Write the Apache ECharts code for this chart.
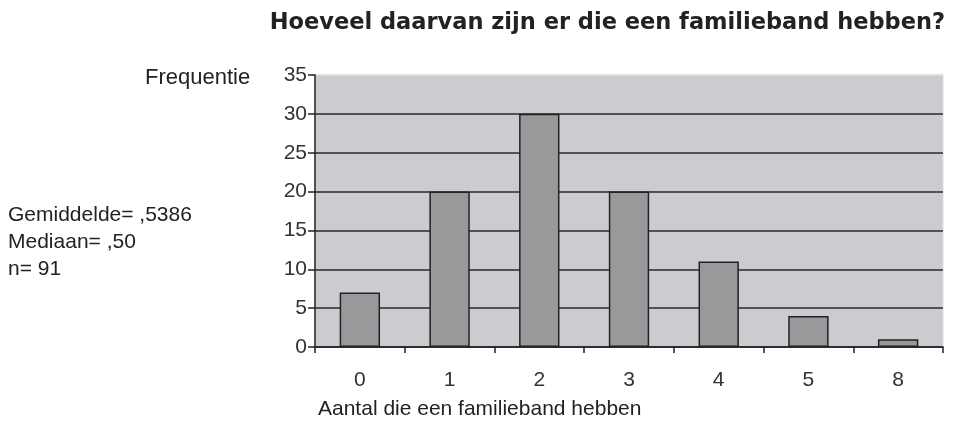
<!DOCTYPE html>
<html>
<head>
<meta charset="utf-8">
<script src="https://cdn.jsdelivr.net/npm/echarts@6/dist/echarts.min.js"></script>
<style>
  html, body { margin: 0; padding: 0; background: #fff; }
  #myChart { width: 958px; height: 426px; }
</style>
</head>
<body>
<div id="myChart"></div>
<script>
  var categories = ['0', '1', '2', '3', '4', '5', '8']
  var frequenties = [7, 20, 30, 20, 11, 4, 1]
  var statLines = ['Gemiddelde= ,5386', 'Mediaan= ,50', 'n= 91']

  var myChart = echarts.init(document.getElementById('myChart'))
  var font = 'Liberation Sans, Arial, sans-serif'

  var option = {
    animation: false,
    title: {
      text: 'Hoeveel daarvan zijn er die een familieband hebben?',
      right: 8,
      top: 7,
      textStyle: {
        fontFamily: 'DejaVu Sans, sans-serif',
        fontWeight: 'bold',
        fontSize: 22.5,
        color: '#222'
      }
    },
    graphic: [
      {
        type: 'text',
        left: 145,
        top: 67,
        style: { text: 'Frequentie', font: '22px ' + font, fill: '#222' }
      },
      {
        type: 'text',
        left: 8,
        top: 202,
        style: { text: statLines.join('\n'), font: '21px ' + font, fill: '#222', lineHeight: 27 }
      }
    ],
    grid: {
      left: 315,
      right: 15,
      top: 75,
      bottom: 79,
      show: true,
      backgroundColor: '#cbcccf',
      borderColor: '#dcdcdc',
      borderWidth: 1
    },
    xAxis: {
      type: 'category',
      data: categories,
      name: 'Aantal die een familieband hebben',
      nameLocation: 'start',
      nameGap: 0,
      nameTextStyle: {
        fontFamily: font,
        fontSize: 21,
        color: '#222',
        align: 'left',
        verticalAlign: 'top',
        padding: [52, 0, 0, 3]
      },
      axisLine: { lineStyle: { color: '#222', width: 1.5 } },
      axisTick: { show: true, length: 6, lineStyle: { color: '#222', width: 1.5 } },
      axisLabel: { fontFamily: font, fontSize: 21, color: '#333', margin: 23 }
    },
    yAxis: {
      type: 'value',
      min: 0,
      max: 35,
      interval: 5,
      axisLine: { show: true, lineStyle: { color: '#222', width: 1.5 } },
      axisTick: { show: true, length: 7, lineStyle: { color: '#222', width: 1.5 } },
      axisLabel: { fontFamily: font, fontSize: 21, color: '#333', margin: 8 },
      splitLine: {
        lineStyle: {
          color: ['#2a2a2a', '#2a2a2a', '#2a2a2a', '#2a2a2a', '#2a2a2a', '#2a2a2a', '#2a2a2a', '#dcdcdc'],
          width: 1.5
        }
      }
    },
    series: [
      {
        type: 'bar',
        data: frequenties,
        barWidth: '45%',
        itemStyle: { color: '#98999b', borderColor: '#222', borderWidth: 1.5 }
      }
    ]
  }

  myChart.setOption(option)
</script>
</body>
</html>
